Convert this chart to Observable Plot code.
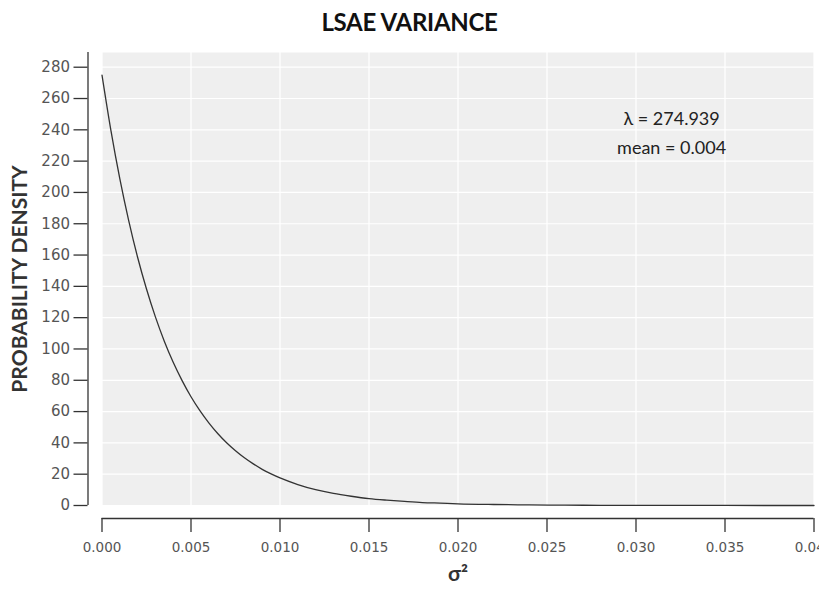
<!DOCTYPE html>
<html>
<head>
<meta charset="utf-8">
<script src="https://cdn.jsdelivr.net/npm/d3@7"></script>
<script src="https://cdn.jsdelivr.net/npm/@observablehq/plot@0.6"></script>
<style>
  html, body { margin: 0; padding: 0; background: #fff; overflow: hidden; }
  #title { height: 44px; line-height: 44px; text-align: center; font-family: Lato, "DejaVu Sans", sans-serif; font-weight: 700; font-size: 24px; color: #111; margin: 0; letter-spacing: -0.3px; }
  #chart svg { display: block; }
</style>
</head>
<body>
<div id="title">LSAE VARIANCE</div>
<div id="chart"></div>
<script>
// Values
const sigma2 = [0, 0.0005, 0.001, 0.0015, 0.002, 0.0025, 0.003, 0.0035, 0.004, 0.0045, 0.005,
  0.0055, 0.006, 0.0065, 0.007, 0.0075, 0.008, 0.0085, 0.009, 0.0095, 0.010,
  0.011, 0.012, 0.013, 0.014, 0.015, 0.016, 0.017, 0.018, 0.019, 0.020,
  0.022, 0.024, 0.026, 0.028, 0.030, 0.035, 0.040];
const density = [274.9, 239.6, 208.8, 182.0, 158.6, 138.3, 120.5, 105.0, 91.5, 79.8, 69.5,
  60.6, 52.8, 46.0, 40.1, 35.0, 30.5, 26.6, 23.1, 20.2, 17.6,
  13.4, 10.1, 7.7, 5.9, 4.4, 3.4, 2.6, 1.9, 1.5, 1.1,
  0.65, 0.37, 0.22, 0.12, 0.07, 0.02, 0.005];
const xTicks = [0, 0.005, 0.010, 0.015, 0.020, 0.025, 0.030, 0.035, 0.040];
const yTicks = [0, 20, 40, 60, 80, 100, 120, 140, 160, 180, 200, 220, 240, 260, 280];
const annotationLines = ["λ = 274.939", "mean = 0.004"];
const annotationY = [247, 228];
const annotationX = 0.032;

const data = sigma2.map((s, i) => ({s, d: density[i]}));
const ann = annotationLines.map((t, i) => ({t, y: annotationY[i]}));

const chart = Plot.plot({
  width: 819,
  height: 549,
  marginTop: 8,
  marginBottom: 88,
  marginLeft: 101.5,
  marginRight: 5.5,
  x: {domain: [0, 0.04]},
  y: {domain: [0, 289.4]},
  style: {background: "#fff", fontFamily: "'DejaVu Sans', sans-serif", color: "#333"},
  marks: [
    Plot.frame({fill: "#efefef", stroke: null}),
    Plot.gridX(xTicks, {stroke: "#fff", strokeOpacity: 1, strokeWidth: 1.2}),
    Plot.gridY(yTicks, {stroke: "#fff", strokeOpacity: 1, strokeWidth: 1.2}),
    Plot.line(data, {x: "s", y: "d", stroke: "#333", strokeWidth: 1.3, curve: "monotone-x"}),
    Plot.ruleX([0], {y1: 0, y2: 289.4, dx: -14, stroke: "#333", strokeWidth: 1.3}),
    Plot.ruleY([0], {x1: 0, x2: 0.04, dy: 13, stroke: "#333", strokeWidth: 1.3}),
    Plot.axisX(xTicks, {anchor: "bottom", tickSize: 14, tickPadding: 10, dy: 13, tickFormat: d3.format(".3f"),
      label: null, fontSize: 13.5, fill: "#555", stroke: "#333", strokeWidth: 1.3}),
    Plot.axisY(yTicks, {anchor: "left", tickSize: 14, tickPadding: 4, dx: -14, tickFormat: d3.format("d"),
      label: null, fontSize: 15, fill: "#555", stroke: "#333", strokeWidth: 1.3}),
    Plot.text(["PROBABILITY DENSITY"], {frameAnchor: "left", textAnchor: "middle", rotate: -90, dx: -82, text: d => d,
      fontSize: 21, fontWeight: 700, fill: "#333", fontFamily: "Lato, sans-serif"}),
    Plot.text(["σ²"], {frameAnchor: "bottom", dy: 75, text: d => d,
      fontSize: 21, fontWeight: 700, fill: "#333", fontFamily: "Lato, sans-serif"}),
    Plot.text(ann, {x: () => annotationX, y: "y", text: "t", fontSize: 18, fill: "#222",
      fontFamily: "Lato, sans-serif"})
  ]
});
document.getElementById("chart").appendChild(chart);
</script>
</body>
</html>
